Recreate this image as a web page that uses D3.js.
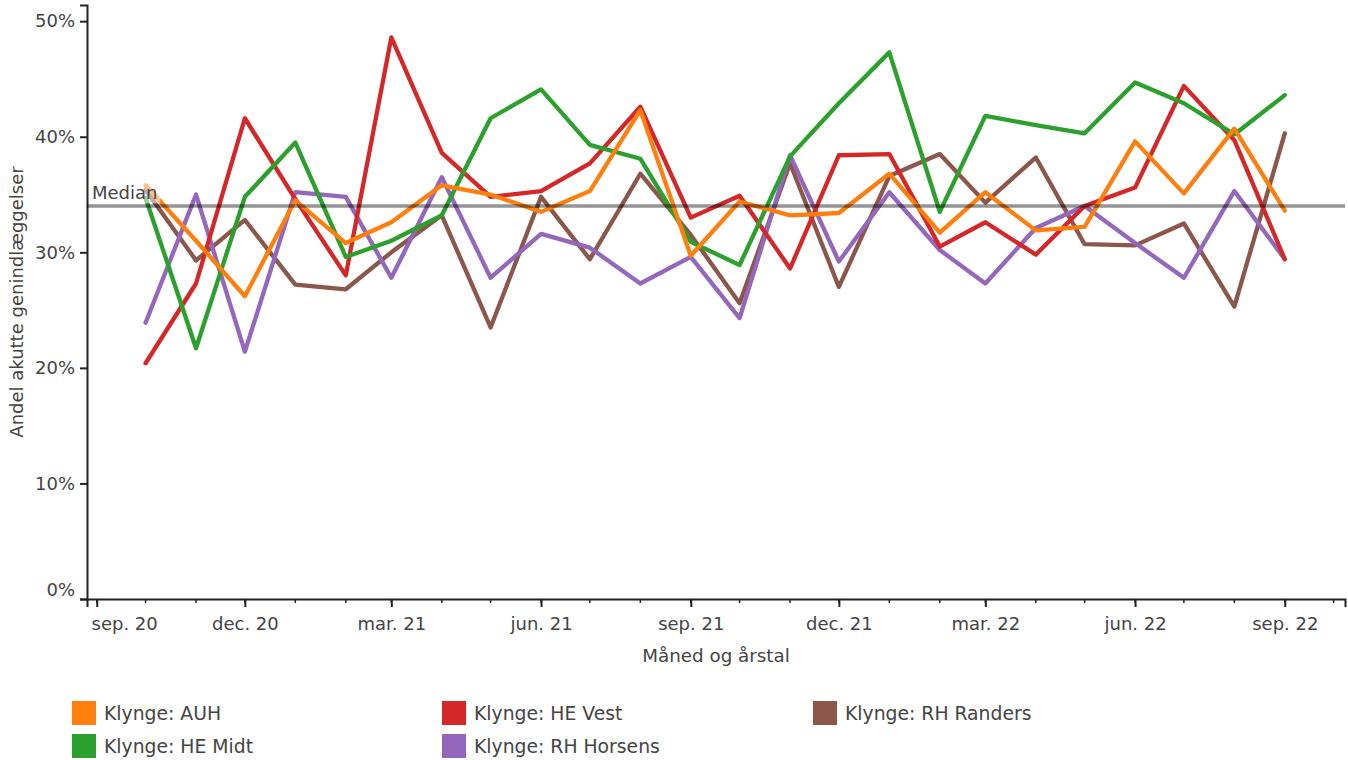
<!DOCTYPE html>
<html>
<head>
<meta charset="utf-8">
<script src="https://cdn.jsdelivr.net/npm/d3@7"></script>
<style>
  body { margin: 0; background: #fff; }
  svg, svg text { font-family: "DejaVu Sans", Verdana, sans-serif; }
  .line { fill: none; stroke-width: 4.3; stroke-linejoin: round; stroke-linecap: round; }
  .tick text { fill: #444; font-size: 18px; font-family: "DejaVu Sans", Verdana, sans-serif; }
</style>
</head>
<body>
<svg id="chart" width="1348" height="760"></svg>
<script>
// months (first of month), Oct 2020 - Sep 2022
const months = ["2020-10","2020-11","2020-12","2021-01","2021-02","2021-03","2021-04","2021-05",
  "2021-06","2021-07","2021-08","2021-09","2021-10","2021-11","2021-12","2022-01","2022-02",
  "2022-03","2022-04","2022-05","2022-06","2022-07","2022-08","2022-09"];

// share of acute readmissions, percent
const auh = [35.8, 31.0, 26.2, 34.5, 30.8, 32.6, 35.8, 35.0, 33.5, 35.3, 42.3, 29.7,
  34.4, 33.2, 33.4, 36.8, 31.7, 35.2, 31.9, 32.2, 39.6, 35.1, 40.7, 33.6];
const heVest = [20.4, 27.3, 41.6, 34.6, 28.0, 48.6, 38.6, 34.8, 35.3, 37.7, 42.6, 33.0,
  34.9, 28.6, 38.4, 38.5, 30.5, 32.6, 29.8, 34.0, 35.6, 44.4, 39.7, 29.4];
const heMidt = [34.7, 21.7, 34.8, 39.5, 29.6, 31.0, 33.2, 41.6, 44.1, 39.3, 38.1, 30.9,
  28.9, 38.3, 42.9, 47.3, 33.5, 41.8, 41.0, 40.3, 44.7, 42.9, 40.2, 43.6];
const rhHorsens = [23.9, 35.0, 21.4, 35.2, 34.8, 27.8, 36.5, 27.8, 31.6, 30.4, 27.3, 29.6,
  24.3, 38.4, 29.2, 35.2, 30.2, 27.3, 32.1, 34.0, 30.8, 27.8, 35.3, 29.4];
const rhRanders = [35.4, 29.3, 32.8, 27.2, 26.8, 30.0, 33.2, 23.5, 34.8, 29.4, 36.8, 31.5,
  25.6, 37.7, 27.0, 36.6, 38.5, 34.3, 38.2, 30.7, 30.6, 32.5, 25.3, 40.3];

const median = 34.0;

const tickDates = ["2020-09","2020-12","2021-03","2021-06","2021-09","2021-12","2022-03","2022-06","2022-09"];
const tickLabels = ["sep. 20","dec. 20","mar. 21","jun. 21","sep. 21","dec. 21","mar. 22","jun. 22","sep. 22"];
const yTicks = [0, 10, 20, 30, 40, 50];

// draw order: last one on top
const series = [
  { name: "Klynge: RH Randers", values: rhRanders, color: "#8c564b" },
  { name: "Klynge: RH Horsens", values: rhHorsens, color: "#9467bd" },
  { name: "Klynge: HE Vest", values: heVest, color: "#d62728" },
  { name: "Klynge: HE Midt", values: heMidt, color: "#2ca02c" },
  { name: "Klynge: AUH", values: auh, color: "#ff7f0e" }
];
// legend order (column-major, 2 rows)
const legendOrder = ["Klynge: AUH","Klynge: HE Midt","Klynge: HE Vest","Klynge: RH Horsens","Klynge: RH Randers"];

const parseMonth = d3.timeParse("%Y-%m");
const plotL = 87, plotR = 1345, plotT = 5, plotB = 599;

const svg = d3.select("#chart");

const x = d3.scaleTime()
  .domain([new Date(2020, 7, 26), new Date(2022, 9, 8)])
  .range([plotL, plotR]);
const y = d3.scaleLinear().domain([0, 51.4]).range([plotB, plotT]);

// y axis
const yAxis = d3.axisLeft(y).tickValues(yTicks).tickFormat(d => d + "%").tickSize(7).tickPadding(5);
const gy = svg.append("g").attr("transform", "translate(" + plotL + ",0)").call(yAxis);
gy.select(".domain").attr("stroke", "#222").attr("stroke-width", 2);
gy.selectAll(".tick line").attr("stroke", "#222").attr("stroke-width", 2);
// the 0% label sits a little above its tick
gy.selectAll(".tick text").filter(d => d === 0).attr("dy", "-0.18em");

// x axis: minor monthly ticks
const minor = d3.timeMonth.range(new Date(2020, 8, 1), new Date(2022, 9, 2));
svg.append("g").selectAll("line").data(minor).enter().append("line")
  .attr("x1", d => x(d)).attr("x2", d => x(d))
  .attr("y1", plotB).attr("y2", plotB + 4)
  .attr("stroke", "#222").attr("stroke-width", 1.5);

const xAxis = d3.axisBottom(x)
  .tickValues(tickDates.map(parseMonth))
  .tickFormat((d, i) => tickLabels[i])
  .tickSize(8).tickPadding(10);
const gx = svg.append("g").attr("transform", "translate(0," + plotB + ")").call(xAxis);
gx.select(".domain").attr("stroke", "#222").attr("stroke-width", 2);
gx.selectAll(".tick line").attr("stroke", "#222").attr("stroke-width", 2);
// keep first label inside plot area
gx.selectAll(".tick text").each(function () {
  const bb = this.getBBox();
  const tx = x(d3.select(this.parentNode).datum());
  if (tx + bb.x < plotL + 4) {
    d3.select(this).attr("text-anchor", "start").attr("x", plotL + 4 - tx);
  }
});

// axis titles
svg.append("text")
  .attr("x", (plotL + plotR) / 2).attr("y", 662)
  .attr("text-anchor", "middle").attr("fill", "#444").attr("font-size", 18.3)
  .text("Måned og årstal");
svg.append("text")
  .attr("transform", "translate(23," + (plotT + plotB) / 2 + ") rotate(-90)")
  .attr("text-anchor", "middle").attr("fill", "#444").attr("font-size", 18)
  .text("Andel akutte genindlæggelser");

// lines
const line = d3.line()
  .x((d, i) => x(parseMonth(months[i])))
  .y(d => y(d));

svg.append("g").selectAll("path").data(series).enter().append("path")
  .attr("class", "line")
  .attr("stroke", d => d.color)
  .attr("d", d => line(d.values));

// median line
svg.append("line")
  .attr("x1", plotL).attr("x2", plotR)
  .attr("y1", y(median)).attr("y2", y(median))
  .attr("stroke", "#000").attr("stroke-opacity", 0.42).attr("stroke-width", 3.5);

// median annotation
svg.append("rect")
  .attr("x", plotL + 2).attr("y", y(median) - 25)
  .attr("width", 71).attr("height", 22)
  .attr("fill", "#fff").attr("fill-opacity", 0.5);
svg.append("text")
  .attr("x", plotL + 5).attr("y", y(median) - 7)
  .attr("fill", "#444").attr("font-size", 18)
  .text("Median");

// legend
const legend = svg.append("g");
const colX = [72, 442, 813], rowY = [701, 734];
legendOrder.forEach((name, i) => {
  const s = series.find(d => d.name === name);
  const col = Math.floor(i / 2), row = i % 2;
  const g = legend.append("g").attr("transform", "translate(" + colX[col] + "," + rowY[row] + ")");
  g.append("rect").attr("width", 24).attr("height", 24).attr("fill", s.color);
  g.append("text").attr("x", 32).attr("y", 18.5)
    .attr("fill", "#444").attr("font-size", 18.8).text(name);
});
</script>
</body>
</html>
